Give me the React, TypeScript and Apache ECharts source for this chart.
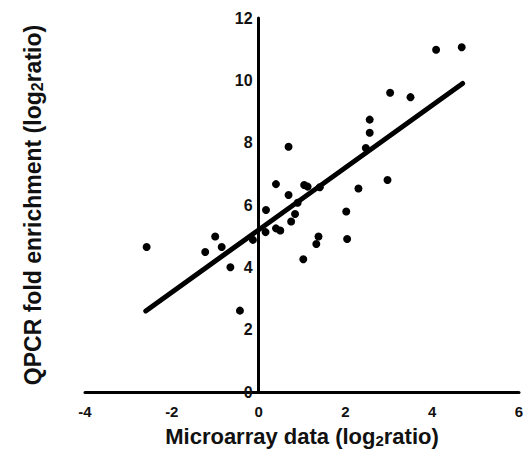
import React, { useEffect, useRef } from "react";
import * as echarts from "echarts";

const microarray = [
  -2.58, -1.23, -1.0, -0.85, -0.65, -0.43, -0.13, 0.17, 0.16, 0.4, 0.4, 0.5,
  0.69, 0.69, 0.75, 0.84, 0.9, 1.05, 1.13, 1.03, 1.38, 1.33, 1.41, 2.02, 2.04,
  2.3, 2.47, 2.56, 2.56, 2.97, 3.03, 3.5, 4.09, 4.68,
];
const qpcr = [
  4.65, 4.49, 4.99, 4.65, 4.0, 2.61, 4.88, 5.84, 5.13, 6.67, 5.25, 5.18, 7.87,
  6.32, 5.47, 5.71, 6.07, 6.64, 6.59, 4.26, 4.99, 4.75, 6.57, 5.79, 4.91, 6.53,
  7.83, 8.32, 8.74, 6.8, 9.6, 9.46, 10.98, 11.06,
];
const fitX = [-2.6, 4.7];
const fitY = [2.6, 9.9];

const FONT = "'Liberation Sans', Arial, Helvetica, sans-serif";
const GRID_LEFT = 85;

export default function App() {
  const ref = useRef<HTMLDivElement>(null);
  useEffect(() => {
    if (!ref.current) return;
    const chart = echarts.init(ref.current, null, { renderer: "svg" });
    const rich = (size: number) => ({
      n: { fontSize: size, fontWeight: "bold", fontFamily: FONT, color: "#111" },
      s: {
        fontSize: Math.round(size * 0.68),
        fontWeight: "bold",
        fontFamily: FONT,
        color: "#111",
        verticalAlign: "bottom",
        padding: [Math.round(size * 0.4), 0, 0, 0],
      },
    });
    chart.setOption({
      animation: false,
      backgroundColor: "#fff",
      grid: { left: GRID_LEFT, right: 9, top: 18, bottom: 67, outerBoundsMode: "none", containLabel: false },
      xAxis: {
        type: "value",
        min: -4,
        max: 6,
        interval: 2,
        name: "{n|Microarray data (log}{s|2}{n|ratio)}",
        nameLocation: "middle",
        nameGap: 32,
        nameTextStyle: { rich: rich(22) },
        axisLine: { onZero: true, lineStyle: { color: "#000", width: 3 } },
        axisTick: { show: false },
        splitLine: { show: false },
        axisLabel: {
          margin: 12,
          formatter: (v: number) => `{t|${v}}`,
          rich: {
            t: { fontSize: 15, fontWeight: "bold", fontFamily: FONT, color: "#111" },
          },
          showMinLabel: true,
          showMaxLabel: true,
        },
      },
      yAxis: {
        type: "value",
        min: 0,
        max: 12,
        interval: 2,
        name: "{n|QPCR fold enrichment (log}{s|2}{n|ratio)}",
        nameLocation: "middle",
        nameGap: 40,
        nameRotate: 90,
        nameTextStyle: { rich: rich(23) },
        axisLine: { onZero: true, lineStyle: { color: "#000", width: 3 } },
        axisTick: { show: false },
        splitLine: { show: false },
        axisLabel: {
          margin: 6,
          fontSize: 16,
          fontWeight: "bold",
          fontFamily: FONT,
          color: "#111",
          showMinLabel: true,
        },
      },
      series: [
        {
          type: "line",
          data: fitX.map((x, i) => [x, fitY[i]]),
          showSymbol: false,
          lineStyle: { color: "#000", width: 5, cap: "round" },
          z: 3,
        },
        {
          type: "scatter",
          data: microarray.map((x, i) => [x, qpcr[i]]),
          symbol: "circle",
          symbolSize: 8,
          itemStyle: { color: "#000", opacity: 1 },
          z: 4,
        },
      ],
    });
    const zeroPx = chart.convertToPixel({ xAxisIndex: 0 }, 0) as number;
    chart.setOption({
      yAxis: { axisLabel: { margin: 6 - (zeroPx - GRID_LEFT) } },
    });
    return () => chart.dispose();
  }, []);
  return (
    <div
      ref={ref}
      style={{ position: "absolute", left: 0, top: 0, width: 528, height: 459 }}
    />
  );
}
